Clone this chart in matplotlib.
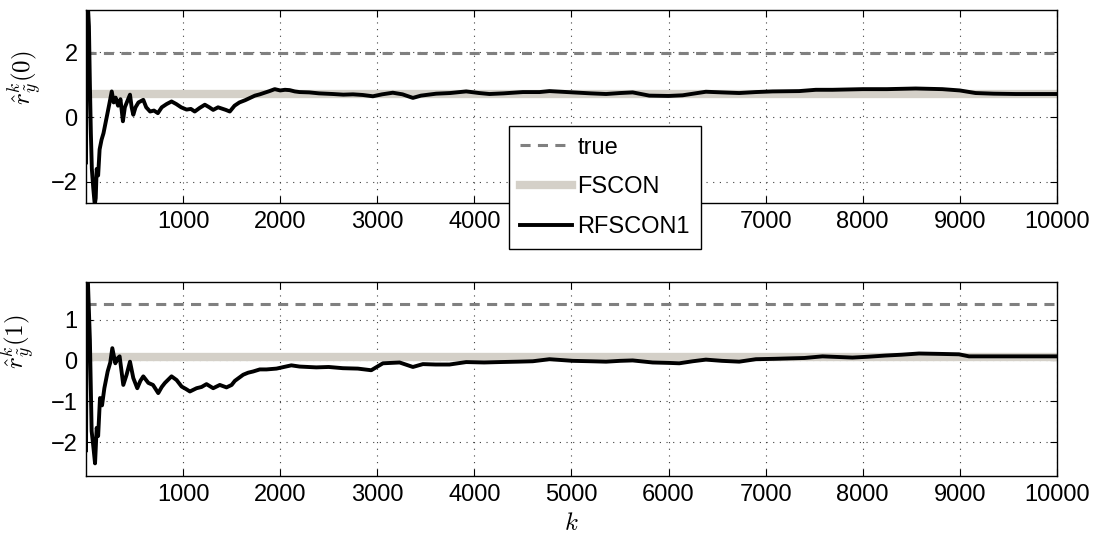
import matplotlib
matplotlib.use('Agg')
import matplotlib.pyplot as plt
import numpy as np

plt.rcParams['font.family'] = ['Liberation Sans', 'DejaVu Sans']
plt.rcParams['mathtext.fontset'] = 'cm'

# estimated values
true_vals = [1.97, 1.37]
fscon_vals = [0.72, 0.09]

k0 = [0, 8, 20, 30, 40, 50, 60, 75, 90, 100, 110, 125, 140, 160, 180, 200,
      220, 240, 265, 285, 305, 330, 355, 380, 400, 420, 453, 470, 487, 510,
      540, 590, 620, 660, 700, 740, 780, 830, 881, 930, 980, 1036, 1080,
      1120, 1170, 1224, 1270, 1310, 1360, 1400, 1440, 1481, 1530, 1580,
      1640, 1690, 1740, 1790, 1830, 1890, 1944, 2000, 2050, 2097, 2150,
      2200, 2300, 2400, 2544, 2650, 2750, 2850, 2955, 3050, 3160, 3260,
      3367, 3450, 3607, 3750, 3916, 4050, 4156, 4300, 4500, 4671, 4774,
      5014, 5200, 5357, 5500, 5631, 5802, 6000, 6145, 6385, 6550, 6728,
      6900, 7071, 7346, 7517, 7689, 8000, 8250, 8546, 8820, 9000, 9163,
      9350, 9575, 9800, 10000]
r0 = [-1.4, 3.5, 3.4, 2.8, 1.0, -0.5, -1.6, -2.2, -2.7, -2.5, -1.6, -1.8,
      -1.0, -0.7, -0.5, -0.2, 0.1, 0.4, 0.79, 0.45, 0.6, 0.35, 0.55, -0.13,
      0.3, 0.45, 0.69, 0.3, 0.07, 0.3, 0.45, 0.53, 0.3, 0.17, 0.2, 0.12,
      0.3, 0.4, 0.48, 0.4, 0.3, 0.23, 0.25, 0.17, 0.28, 0.38, 0.3, 0.22,
      0.3, 0.26, 0.22, 0.17, 0.35, 0.45, 0.52, 0.59, 0.66, 0.7, 0.74, 0.8,
      0.86, 0.82, 0.84, 0.83, 0.79, 0.77, 0.76, 0.73, 0.71, 0.69, 0.7,
      0.68, 0.64, 0.7, 0.75, 0.7, 0.59, 0.66, 0.72, 0.74, 0.79, 0.74, 0.71,
      0.73, 0.77, 0.77, 0.8, 0.76, 0.73, 0.71, 0.74, 0.76, 0.66, 0.65,
      0.67, 0.78, 0.76, 0.74, 0.77, 0.79, 0.8, 0.84, 0.84, 0.86, 0.86,
      0.88, 0.86, 0.82, 0.74, 0.72, 0.71, 0.71, 0.71]

k1 = [0, 8, 20, 30, 40, 58, 75, 93, 110, 125, 144, 165, 189, 223, 250, 271,
      302, 325, 346, 384, 418, 453, 487, 528, 560, 590, 642, 690, 744, 780,
      813, 881, 933, 985, 1030, 1070, 1139, 1190, 1241, 1310, 1378, 1447,
      1500, 1533, 1619, 1670, 1722, 1790, 1859, 1962, 2115, 2200, 2372,
      2500, 2646, 2800, 2938, 3058, 3230, 3367, 3470, 3600, 3744, 3916,
      4100, 4259, 4450, 4602, 4774, 5014, 5200, 5357, 5500, 5631, 5836,
      6000, 6111, 6250, 6385, 6550, 6728, 6900, 7100, 7243, 7400, 7586,
      7894, 8050, 8237, 8400, 8580, 8800, 8992, 9095, 9300, 9610, 9800,
      10000]
r1 = [-2.2, 1.95, 1.9, 1.2, 0.5, -1.73, -2.1, -2.52, -1.65, -1.85, -0.92,
      -1.1, -0.68, -0.27, -0.05, 0.3, -0.07, 0.05, 0.1, -0.6, -0.35, -0.03,
      -0.43, -0.68, -0.5, -0.39, -0.55, -0.6, -0.8, -0.65, -0.55, -0.39,
      -0.48, -0.64, -0.7, -0.76, -0.68, -0.65, -0.58, -0.68, -0.6, -0.66,
      -0.6, -0.5, -0.35, -0.3, -0.27, -0.22, -0.22, -0.2, -0.12, -0.15,
      -0.17, -0.16, -0.19, -0.2, -0.24, -0.07, -0.05, -0.16, -0.09, -0.1,
      -0.1, -0.04, -0.05, -0.04, -0.03, -0.02, 0.03, -0.01, -0.02, -0.03,
      -0.01, 0.0, -0.05, -0.06, -0.07, -0.02, 0.02, -0.01, -0.03, 0.03,
      0.04, 0.05, 0.06, 0.1, 0.07, 0.09, 0.12, 0.14, 0.17, 0.16, 0.15, 0.1,
      0.1, 0.1, 0.1, 0.1]

panels = [
    (k0, r0, true_vals[0], fscon_vals[0], (-2.65, 3.3), [-2, 0, 2],
     r'$\hat{r}^k_{\tilde{y}}(0)$', (-0.043, 0.65)),
    (k1, r1, true_vals[1], fscon_vals[1], (-2.83, 1.92), [-2, -1, 0, 1],
     r'$\hat{r}^k_{\tilde{y}}(1)$', (-0.05, 0.69)),
]
positions = [[0.0777, 0.6227, 0.877, 0.3587], [0.0777, 0.1152, 0.877, 0.3606]]

fig = plt.figure(figsize=(11.07, 5.38), dpi=100)
axes = []
for pos, (k, r, tv, fv, ylim, yt, ylab, lc) in zip(positions, panels):
    ax = fig.add_axes(pos)
    ax.axhline(tv, color='#808080', lw=2.2, ls=(0, (3.3, 2.4)), label='true', zorder=3)
    ax.axhline(fv, color='#d4d0c8', lw=6, label='FSCON', zorder=2)
    ax.plot(k, r, color='black', lw=2.8, solid_joinstyle='round', label='RFSCON1', zorder=4)
    ax.set_xlim(0, 10000)
    ax.set_ylim(*ylim)
    ax.set_xticks(np.arange(1000, 10001, 1000))
    ax.set_yticks(yt)
    ax.grid(True, ls=(0, (1, 5)), color='0.25', lw=0.8)
    ax.tick_params(direction='in', length=5, width=0.8, top=True, right=True,
                   labelsize=17, pad=6)
    for s in ax.spines.values():
        s.set_linewidth(1.0)
    ax.set_ylabel(ylab, fontsize=18)
    ax.yaxis.set_label_coords(*lc)
    axes.append(ax)

axes[1].set_xlabel('$k$', fontsize=18, labelpad=3)

leg = axes[0].legend(loc='upper left', bbox_to_anchor=(0.4598, 0.7658),
                     bbox_transform=fig.transFigure, borderaxespad=0,
                     fontsize=17, frameon=True,
                     fancybox=False, edgecolor='black', framealpha=1,
                     handlelength=2.2, handletextpad=0.25, borderpad=0.45,
                     labelspacing=0.75)
leg.get_frame().set_linewidth(1.0)
leg.set_zorder(10)

fig.savefig('out.png', dpi=100)
